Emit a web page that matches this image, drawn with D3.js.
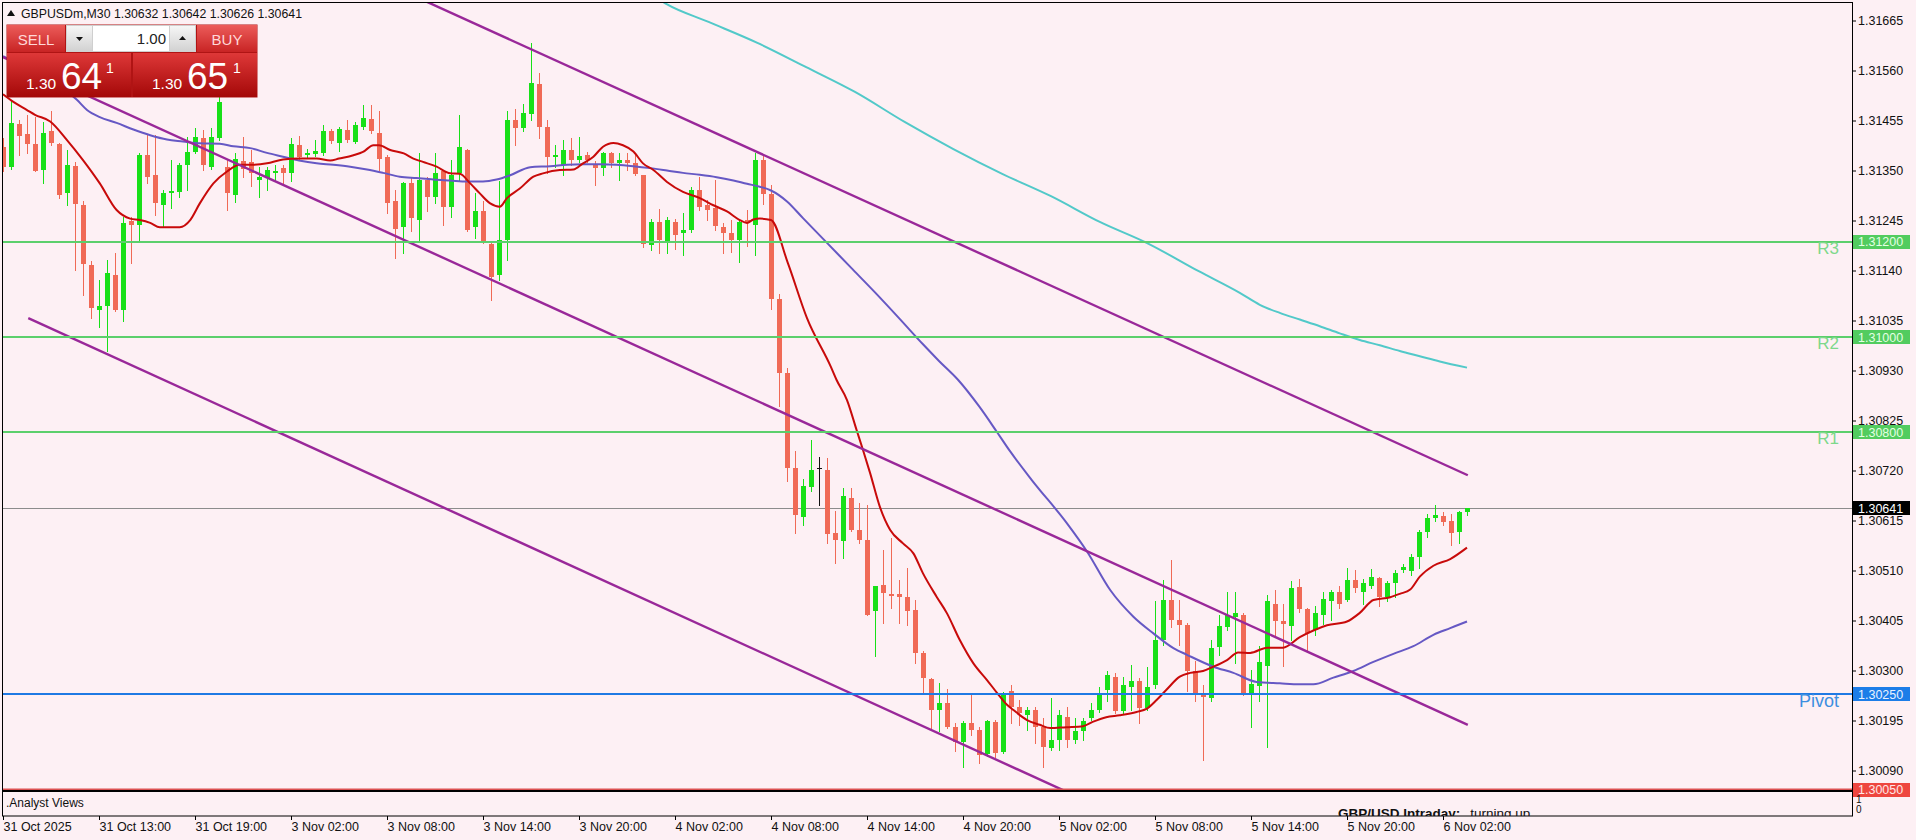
<!DOCTYPE html>
<html><head><meta charset="utf-8">
<script src="https://cdn.jsdelivr.net/npm/d3@7"></script>
<style>
html,body{margin:0;padding:0;background:#fdf0f4;overflow:hidden}
svg{display:block}
text{font-family:"Liberation Sans",Arial,sans-serif}
</style></head><body>
<svg id="c" width="1916" height="840"></svg>
<script>
// ---------- DATA ----------
const symbolTitle = "GBPUSDm,M30  1.30632 1.30642 1.30626 1.30641";
const open = [1.31400,1.31358,1.31448,1.31426,1.31405,1.31351,1.31434,1.31406,1.31303,1.31360,
1.31278,1.31152,1.31058,1.31066,1.31130,1.31057,1.31243,1.31236,1.31383,1.31341,
1.31278,1.31303,1.31305,1.31361,1.31389,1.31418,1.31358,1.31418,1.31358,1.31299,
1.31371,1.31368,1.31331,1.31334,1.31345,1.31355,1.31344,1.31404,1.31382,1.31385,
1.31386,1.31432,1.31407,1.31435,1.31410,1.31442,1.31458,1.31428,1.31379,1.31285,
1.31232,1.31324,1.31247,1.31330,1.31295,1.31348,1.31274,1.31344,1.31394,1.31232,
1.31264,1.31196,1.31131,1.31204,1.31456,1.31440,1.31468,1.31532,1.31442,1.31379,
1.31362,1.31393,1.31373,1.31382,1.31362,1.31355,1.31386,1.31366,1.31373,1.31366,
1.31341,1.31193,1.31242,1.31198,1.31242,1.31219,1.31226,1.31310,1.31278,1.31271,
1.31231,1.31219,1.31205,1.31246,1.31236,1.31372,1.31300,1.31080,1.30925,1.30725,
1.30623,1.30686,1.30725,1.30721,1.30588,1.30571,1.30662,1.30595,1.30573,1.30424,
1.30480,1.30460,1.30461,1.30454,1.30427,1.30337,1.30282,1.30217,1.30231,1.30181,
1.30150,1.30190,1.30175,1.30125,1.30192,1.30129,1.30256,1.30223,1.30207,1.30218,
1.30182,1.30137,1.30155,1.30203,1.30154,1.30174,1.30200,1.30218,1.30258,1.30287,
1.30214,1.30265,1.30277,1.30221,1.30270,1.30365,1.30447,1.30406,1.30396,1.30298,
1.30252,1.30242,1.30350,1.30392,1.30413,1.30416,1.30252,1.30267,1.30309,1.30440,
1.30405,1.30393,1.30476,1.30429,1.30384,1.30417,1.30445,1.30464,1.30448,1.30489,
1.30464,1.30478,1.30495,1.30455,1.30483,1.30511,1.30508,1.30539,1.30591,1.30621,
1.30624,1.30614,1.30591,1.30632];
const high = [1.31418,1.31498,1.31456,1.31467,1.31463,1.31452,1.31474,1.31407,1.31393,1.31368,
1.31285,1.31159,1.31120,1.31162,1.31176,1.31253,1.31253,1.31386,1.31425,1.31425,
1.31309,1.31372,1.31365,1.31421,1.31439,1.31435,1.31439,1.31505,1.31372,1.31386,
1.31421,1.31393,1.31358,1.31358,1.31361,1.31361,1.31418,1.31422,1.31396,1.31414,
1.31446,1.31438,1.31442,1.31456,1.31452,1.31488,1.31488,1.31474,1.31382,1.31309,
1.31326,1.31337,1.31386,1.31337,1.31386,1.31351,1.31372,1.31467,1.31396,1.31302,
1.31285,1.31201,1.31327,1.31474,1.31480,1.31490,1.31618,1.31555,1.31455,1.31404,
1.31414,1.31418,1.31421,1.31389,1.31369,1.31389,1.31389,1.31386,1.31386,1.31382,
1.31341,1.31249,1.31270,1.31253,1.31249,1.31260,1.31316,1.31337,1.31288,1.31330,
1.31239,1.31246,1.31249,1.31267,1.31386,1.31385,1.31320,1.31090,1.30935,1.30760,
1.30703,1.30784,1.30749,1.30746,1.30634,1.30683,1.30683,1.30652,1.30648,1.30477,
1.30553,1.30578,1.30490,1.30515,1.30448,1.30340,1.30284,1.30273,1.30262,1.30189,
1.30193,1.30249,1.30182,1.30196,1.30196,1.30255,1.30270,1.30237,1.30224,1.30224,
1.30200,1.30242,1.30217,1.30224,1.30200,1.30200,1.30231,1.30266,1.30298,1.30295,
1.30287,1.30312,1.30284,1.30308,1.30445,1.30491,1.30532,1.30448,1.30399,1.30319,
1.30270,1.30364,1.30416,1.30465,1.30465,1.30420,1.30301,1.30351,1.30459,1.30469,
1.30440,1.30487,1.30492,1.30431,1.30436,1.30464,1.30469,1.30478,1.30515,1.30511,
1.30492,1.30514,1.30497,1.30487,1.30511,1.30523,1.30544,1.30595,1.30628,1.30647,
1.30633,1.30628,1.30636,1.30642];
const low = [1.31348,1.31354,1.31383,1.31386,1.31348,1.31323,1.31404,1.31292,1.31278,1.31141,
1.31089,1.31040,1.31022,1.30970,1.31054,1.31033,1.31155,1.31204,1.31323,1.31257,
1.31232,1.31271,1.31295,1.31309,1.31386,1.31351,1.31354,1.31414,1.31267,1.31284,
1.31337,1.31318,1.31295,1.31309,1.31330,1.31323,1.31327,1.31375,1.31379,1.31380,
1.31382,1.31407,1.31390,1.31410,1.31407,1.31438,1.31428,1.31351,1.31260,1.31166,
1.31176,1.31222,1.31204,1.31264,1.31281,1.31236,1.31253,1.31327,1.31222,1.31208,
1.31197,1.31078,1.31120,1.31162,1.31404,1.31432,1.31455,1.31418,1.31344,1.31358,
1.31341,1.31362,1.31368,1.31368,1.31320,1.31341,1.31358,1.31330,1.31351,1.31341,
1.31190,1.31183,1.31176,1.31176,1.31186,1.31172,1.31221,1.31267,1.31246,1.31225,
1.31176,1.31179,1.31158,1.31191,1.31172,1.31280,1.31060,1.30855,1.30697,1.30588,
1.30606,1.30676,1.30648,1.30567,1.30525,1.30536,1.30592,1.30567,1.30417,1.30330,
1.30399,1.30431,1.30399,1.30396,1.30316,1.30252,1.30179,1.30172,1.30179,1.30130,
1.30097,1.30164,1.30105,1.30120,1.30119,1.30126,1.30189,1.30186,1.30175,1.30147,
1.30098,1.30133,1.30133,1.30140,1.30147,1.30154,1.30196,1.30213,1.30235,1.30210,
1.30210,1.30217,1.30189,1.30217,1.30263,1.30354,1.30392,1.30354,1.30256,1.30235,
1.30112,1.30235,1.30333,1.30385,1.30315,1.30249,1.30182,1.30235,1.30140,1.30370,
1.30309,1.30365,1.30422,1.30342,1.30375,1.30398,1.30407,1.30431,1.30445,1.30464,
1.30440,1.30473,1.30436,1.30445,1.30455,1.30506,1.30501,1.30515,1.30581,1.30614,
1.30605,1.30564,1.30567,1.30626];
const close = [1.31358,1.31449,1.31423,1.31405,1.31349,1.31428,1.31407,1.31299,1.31361,1.31279,
1.31153,1.31061,1.31065,1.31134,1.31057,1.31239,1.31236,1.31383,1.31337,1.31281,
1.31303,1.31308,1.31361,1.31389,1.31420,1.31361,1.31420,1.31494,1.31302,1.31375,
1.31354,1.31345,1.31336,1.31351,1.31350,1.31345,1.31406,1.31379,1.31386,1.31390,
1.31432,1.31411,1.31438,1.31414,1.31445,1.31460,1.31432,1.31375,1.31282,1.31227,
1.31323,1.31250,1.31329,1.31295,1.31344,1.31273,1.31341,1.31399,1.31226,1.31266,
1.31201,1.31127,1.31204,1.31456,1.31440,1.31470,1.31534,1.31442,1.31379,1.31383,
1.31393,1.31372,1.31380,1.31372,1.31355,1.31386,1.31365,1.31372,1.31366,1.31343,
1.31196,1.31242,1.31204,1.31247,1.31214,1.31226,1.31309,1.31274,1.31268,1.31233,
1.31218,1.31204,1.31242,1.31239,1.31372,1.31300,1.31080,1.30925,1.30725,1.30627,
1.30687,1.30722,1.30725,1.30587,1.30573,1.30666,1.30595,1.30574,1.30417,1.30477,
1.30462,1.30457,1.30455,1.30426,1.30337,1.30285,1.30216,1.30231,1.30182,1.30150,
1.30189,1.30175,1.30122,1.30195,1.30126,1.30248,1.30224,1.30210,1.30218,1.30182,
1.30140,1.30155,1.30207,1.30154,1.30174,1.30195,1.30217,1.30252,1.30291,1.30214,
1.30270,1.30279,1.30221,1.30265,1.30365,1.30448,1.30406,1.30396,1.30298,1.30253,
1.30244,1.30347,1.30393,1.30416,1.30420,1.30252,1.30272,1.30318,1.30445,1.30403,
1.30397,1.30473,1.30429,1.30379,1.30421,1.30450,1.30464,1.30440,1.30489,1.30473,
1.30483,1.30497,1.30455,1.30483,1.30504,1.30517,1.30539,1.30591,1.30621,1.30626,
1.30611,1.30589,1.30633,1.30641];

// moving averages: [bar index, price]
const maFast = [[0,1.31510],[1.3,1.31494],[3,1.31477],[4,1.31467],[5.9,1.31453],[8,1.31414],[10,1.31372],[12.1,1.31323],[14.2,1.31267],[15.9,1.31249],[17.1,1.31246],[18.4,1.31240],[19.6,1.31231],[22.1,1.31231],[23.4,1.31246],[24.6,1.31281],[26.3,1.31323],[28,1.31348],[29.6,1.31362],[31,1.31362],[33,1.31365],[35,1.31373],[37,1.31375],[39.2,1.31375],[40.9,1.31371],[42,1.31375],[43.8,1.31382],[45,1.31389],[46.3,1.31403],[47,1.31403],[48.4,1.31393],[50.1,1.31386],[51.3,1.31375],[52.5,1.31368],[54.2,1.31358],[55.9,1.31344],[57.1,1.31343],[58.4,1.31323],[59.6,1.31302],[60.9,1.31281],[62.1,1.31274],[63,1.31292],[64.6,1.31312],[66.3,1.31337],[67.5,1.31344],[69.6,1.31351],[71.3,1.31352],[72.5,1.31365],[73.8,1.31379],[75,1.31400],[76.3,1.31408],[77.5,1.31403],[78.8,1.31390],[80,1.31365],[81.3,1.31351],[83,1.31326],[85,1.31305],[87.1,1.31292],[88.8,1.31277],[90.5,1.31264],[92.1,1.31246],[93,1.31240],[93.8,1.31247],[94.6,1.31249],[96,1.31246],[98.1,1.31156],[100.5,1.31040],[103.5,1.30937],[104.2,1.30910],[105.5,1.30868],[106.7,1.30805],[107.5,1.30763],[108.4,1.30714],[109.6,1.30644],[110.9,1.30595],[112.5,1.30567],[113.8,1.30546],[115,1.30504],[116.7,1.30455],[118,1.30420],[119.6,1.30364],[121.3,1.30315],[123,1.30280],[124.3,1.30252],[125.5,1.30228],[126.3,1.30217],[128,1.30196],[129.6,1.30186],[130.9,1.30179],[132.9,1.30181],[135,1.30183],[136.2,1.30192],[137.9,1.30202],[139.6,1.30206],[141.7,1.30213],[143,1.30220],[144.2,1.30238],[145.4,1.30259],[147.1,1.30287],[148.4,1.30295],[150,1.30299],[151.3,1.30308],[153,1.30322],[154.4,1.30338],[155.9,1.30337],[158,1.30348],[160,1.30348],[162.1,1.30370],[163.8,1.30384],[165.5,1.30395],[168,1.30403],[169.6,1.30421],[171.3,1.30448],[173.4,1.30454],[174.6,1.30461],[175.9,1.30470],[177.1,1.30497],[178.8,1.30520],[180.9,1.30534],[183,1.30558]];
const maMid = [[0,1.31590],[5,1.31545],[9.2,1.31499],[10.5,1.31477],[12.1,1.31462],[14.2,1.31450],[16.3,1.31436],[18.4,1.31424],[20.5,1.31415],[22.5,1.31411],[24.6,1.31407],[27.1,1.31406],[28.8,1.31401],[30.9,1.31397],[33,1.31387],[35,1.31379],[37,1.31371],[39.2,1.31365],[41.3,1.31362],[43.4,1.31358],[45.5,1.31352],[47.5,1.31345],[49.6,1.31337],[51.7,1.31334],[53.8,1.31331],[55.9,1.31329],[58,1.31327],[60,1.31327],[61.7,1.31331],[63.4,1.31340],[65.9,1.31357],[68.4,1.31359],[70.5,1.31362],[72.5,1.31363],[74.6,1.31363],[76.7,1.31362],[78.8,1.31359],[80.9,1.31355],[83,1.31350],[85,1.31345],[87.1,1.31341],[89.2,1.31336],[91.3,1.31329],[93,1.31322],[94.6,1.31316],[96,1.31308],[98,1.31285],[100,1.31250],[103,1.31198],[106,1.31146],[109,1.31094],[112,1.31040],[115,1.30985],[117,1.30950],[119.4,1.30910],[122,1.30855],[124.2,1.30802],[125.9,1.30760],[128.6,1.30700],[133,1.30609],[135.5,1.30550],[138.4,1.30469],[141.3,1.30413],[143.8,1.30378],[146.3,1.30347],[148,1.30333],[151.3,1.30308],[153.8,1.30295],[156.7,1.30276],[159.6,1.30273],[162.1,1.30271],[163.8,1.30271],[166.3,1.30285],[168.8,1.30299],[171.3,1.30318],[173.8,1.30335],[176.3,1.30351],[178.8,1.30375],[180.9,1.30389],[183,1.30403]];
const maSlow = [[78,1.31760],[82.9,1.31700],[88.2,1.31662],[94.3,1.31618],[100.4,1.31567],[106.5,1.31515],[112.7,1.31452],[118.8,1.31395],[124.9,1.31343],[131,1.31296],[137.1,1.31242],[143.2,1.31196],[149.4,1.31139],[154.6,1.31093],[157.1,1.31068],[159.6,1.31051],[162.1,1.31037],[164.6,1.31023],[167.1,1.31008],[169.6,1.30994],[172.1,1.30983],[174.6,1.30971],[177.1,1.30960],[179.6,1.30949],[183,1.30936]];

// descending channel lines: [[bar, price],[bar, price]]
const channelTop = [[50,1.31727],[183.1,1.30710]];
const channelMid = [[0,1.31588],[183.1,1.30186]];
const channelLow = [[3.16,1.31040],[133,1.30045]];

// horizontal levels
const levelValues = [1.31200,1.31000,1.30800,1.30250,1.30050];
const levelNames  = ["R3","R2","R1","Pivot",""];
const lastPrice = 1.30641;

// axis ticks
const yTicks = [1.31665,1.31560,1.31455,1.31350,1.31245,1.31140,1.31035,1.30930,1.30825,1.30720,1.30615,1.30510,1.30405,1.30300,1.30195,1.30090];
const xTickBars = [0,12,24,36,48,60,72,84,96,108,120,132,144,156,168,180];
const xTickLabels = ["31 Oct 2025","31 Oct 13:00","31 Oct 19:00","3 Nov 02:00","3 Nov 08:00","3 Nov 14:00","3 Nov 20:00","4 Nov 02:00","4 Nov 08:00","4 Nov 14:00","4 Nov 20:00","5 Nov 02:00","5 Nov 08:00","5 Nov 14:00","5 Nov 20:00","6 Nov 02:00"];

// ---------- DRAW ----------
const svg = d3.select("#c");
const L = 3, R = 1852, T = 3, B = 790;
const x = d3.scaleLinear().domain([0,183]).range([3,1467]);
const y = d3.scaleLinear().domain([1.30090,1.31665]).range([770.5,20.5]);
const fmt = d3.format(".5f");

const defs = svg.append("defs");
defs.append("clipPath").attr("id","plot").append("rect").attr("x",L).attr("y",T).attr("width",R-L).attr("height",B-T);
defs.append("clipPath").attr("id","sub").append("rect").attr("x",L).attr("y",792).attr("width",R-L).attr("height",24);
function grad(id,c1,c2){const g=defs.append("linearGradient").attr("id",id).attr("x1",0).attr("y1",0).attr("x2",0).attr("y2",1);
 g.append("stop").attr("offset","0%").attr("stop-color",c1); g.append("stop").attr("offset","100%").attr("stop-color",c2);}
grad("btn","#ec5c5a","#c82424");
grad("price","#de3838","#a40808");
grad("gry","#f6f6f6","#d2d2d2");

svg.append("rect").attr("width",1916).attr("height",840).attr("fill","#fdf0f4");

const plot = svg.append("g").attr("clip-path","url(#plot)");

// last price line
plot.append("line").attr("x1",L).attr("x2",R).attr("y1",Math.round(y(lastPrice))+0.5).attr("y2",Math.round(y(lastPrice))+0.5)
  .attr("stroke","#8c8c8c").attr("stroke-width",1);

// candles
const idx = d3.range(open.length);
const BULL="#18e018", BEAR="#f06a56";
const cg = plot.append("g");
idx.forEach(i=>{
  const cx = Math.round(x(i));
  const o=open[i], c=close[i];
  const col = o===c ? "#111" : (c>o?BULL:BEAR);
  cg.append("line").attr("x1",cx+0.5).attr("x2",cx+0.5)
    .attr("y1",Math.round(y(high[i]))).attr("y2",Math.round(y(low[i]))+1)
    .attr("stroke",col).attr("stroke-width",1);
  const t = Math.round(y(Math.max(o,c))), b = Math.round(y(Math.min(o,c)));
  if (o===c){
    cg.append("line").attr("x1",cx-2).attr("x2",cx+3).attr("y1",t+0.5).attr("y2",t+0.5).attr("stroke",col);
  } else {
    cg.append("rect").attr("x",cx-2).attr("y",t).attr("width",5).attr("height",Math.max(1,b-t)).attr("fill",col);
  }
});

// moving averages
const lineGen = d3.line().x(d=>x(d[0])).y(d=>y(d[1])).curve(d3.curveMonotoneX);
plot.append("path").attr("d",lineGen(maSlow)).attr("fill","none").attr("stroke","#52c9c9").attr("stroke-width",2);
plot.append("path").attr("d",lineGen(maMid)).attr("fill","none").attr("stroke","#6658c4").attr("stroke-width",2);
plot.append("path").attr("d",lineGen(maFast)).attr("fill","none").attr("stroke","#c80a0a").attr("stroke-width",2);

// channel
const straight = d3.line().x(d=>x(d[0])).y(d=>y(d[1]));
[channelTop,channelMid,channelLow].forEach(c=>{
  plot.append("path").attr("d",straight(c)).attr("fill","none").attr("stroke","#992899").attr("stroke-width",2.4);
});

// levels
const levelColors = ["#5ccf6c","#5ccf6c","#5ccf6c","#1f7ae4","#dc5050"];
const levelText = ["#7dd88b","#7dd88b","#7dd88b","#3d8fe0",""];
levelValues.forEach((v,i)=>{
  const yy = Math.round(y(v));
  svg.append("line").attr("x1",L).attr("x2",R).attr("y1",yy).attr("y2",yy)
    .attr("stroke",levelColors[i]).attr("stroke-width", i===4?3:2);
  if (levelNames[i]) {
    const big = levelNames[i]==="Pivot";
    svg.append("text").attr("x",1839).attr("y",yy+(big?13:12)).attr("text-anchor","end")
      .attr("font-size",big?18:17).attr("fill",levelText[i]).text(levelNames[i]);
  }
});

// frames
svg.append("rect").attr("x",L-0.5).attr("y",T-0.5).attr("width",R-L+1).attr("height",B-T+1).attr("fill","none").attr("stroke","#000");
svg.append("rect").attr("x",L-0.5).attr("y",791.5).attr("width",R-L+1).attr("height",24.5).attr("fill","none").attr("stroke","#000");
svg.append("line").attr("x1",R+0.5).attr("x2",R+0.5).attr("y1",T).attr("y2",816).attr("stroke","#000");

// right axis
const yAxis = svg.append("g").attr("transform",`translate(${R},0)`)
  .call(d3.axisRight(y).tickValues(yTicks).tickFormat(fmt).tickSize(4).tickPadding(2));
yAxis.select(".domain").remove();
yAxis.selectAll("line").attr("stroke","#000");
yAxis.selectAll("text").attr("font-size",12.5).attr("fill","#111").attr("font-family","Liberation Sans, Arial, sans-serif");

// price boxes on axis
const boxVals = [1.31200,1.31000,1.30800,lastPrice,1.30250,1.30050];
const boxCols = ["#52cc5f","#52cc5f","#52cc5f","#000","#1c7de8","#ee463f"];
const boxTxt = ["#e4ffe4","#e4ffe4","#e4ffe4","#fff","#e8f2ff","#ffe6e6"];
boxVals.forEach((v,i)=>{
  const yy = y(v);
  svg.append("rect").attr("x",R+1).attr("y",Math.round(yy-7)).attr("width",57).attr("height",14).attr("fill",boxCols[i]);
  svg.append("text").attr("x",R+6).attr("y",yy).attr("dy","0.36em").attr("font-size",12.5).attr("fill",boxTxt[i]).text(fmt(v));
});

// bottom axis
const xAxis = svg.append("g").attr("transform","translate(0,816)")
  .call(d3.axisBottom(x).tickValues(xTickBars).tickFormat((d,i)=>xTickLabels[i]).tickSize(4));
xAxis.select(".domain").remove();
xAxis.selectAll("line").attr("stroke","#000");
xAxis.selectAll("text").attr("text-anchor","start").attr("x",0).attr("y",6).attr("dy","0.71em")
  .attr("font-size",12.5).attr("fill","#111").attr("font-family","Liberation Sans, Arial, sans-serif");

// sub window
svg.append("text").attr("x",6).attr("y",807).attr("font-size",12).attr("fill","#111").text(".Analyst Views");
const sg = svg.append("g").attr("clip-path","url(#sub)");
const st = sg.append("text").attr("x",1338).attr("y",818).attr("font-size",13.5).attr("fill","#111");
st.append("tspan").attr("font-weight","bold").text("GBP/USD Intraday:");
st.append("tspan").attr("dx",10).text("turning up.");
svg.append("text").attr("x",1856).attr("y",803).attr("font-size",10).attr("fill","#111").text("1");
svg.append("text").attr("x",1856).attr("y",813).attr("font-size",10).attr("fill","#111").text("0");

// title
svg.append("path").attr("d","M7,16 L15,16 L11,10 Z").attr("fill","#111");
svg.append("text").attr("x",21).attr("y",17.5).attr("font-size",12.3).attr("fill","#111").text(symbolTitle);

// one-click trading panel
const p = svg.append("g");
p.append("rect").attr("x",6.5).attr("y",24.5).attr("width",251).attr("height",73).attr("fill","#b01414");
p.append("rect").attr("x",7).attr("y",25).attr("width",58).attr("height",27).attr("fill","url(#btn)");
p.append("rect").attr("x",197).attr("y",25).attr("width",60).attr("height",27).attr("fill","url(#btn)");
p.append("rect").attr("x",66).attr("y",25).attr("width",130).attr("height",27).attr("fill","#cfcfcf");
p.append("rect").attr("x",67).attr("y",26).attr("width",25).attr("height",25).attr("fill","url(#gry)");
p.append("rect").attr("x",170).attr("y",26).attr("width",25).attr("height",25).attr("fill","url(#gry)");
p.append("rect").attr("x",93).attr("y",26).attr("width",76).attr("height",25).attr("fill","#fff");
p.append("path").attr("d","M76,37 L83,37 L79.5,41 Z").attr("fill","#111");
p.append("path").attr("d","M179,40 L186,40 L182.5,36 Z").attr("fill","#111");
p.append("text").attr("x",166).attr("y",44).attr("text-anchor","end").attr("font-size",15).attr("fill","#222").text("1.00");
p.append("text").attr("x",36).attr("y",44.5).attr("text-anchor","middle").attr("font-size",15)
  .attr("font-family","Liberation Sans Narrow, Liberation Sans, sans-serif").attr("fill","#ffd8d8").text("SELL");
p.append("text").attr("x",227).attr("y",44.5).attr("text-anchor","middle").attr("font-size",15)
  .attr("font-family","Liberation Sans Narrow, Liberation Sans, sans-serif").attr("fill","#ffd8d8").text("BUY");
p.append("rect").attr("x",7).attr("y",53).attr("width",124).attr("height",44).attr("fill","url(#price)");
p.append("rect").attr("x",133).attr("y",53).attr("width",124).attr("height",44).attr("fill","url(#price)");
[[26,61,106,"64"],[152,187,233,"65"]].forEach(d=>{
  p.append("text").attr("x",d[0]).attr("y",88.5).attr("font-size",15.5).attr("fill","#fff").text("1.30");
  p.append("text").attr("x",d[1]).attr("y",88.5).attr("font-size",37).attr("fill","#fff").text(d[3]);
  p.append("text").attr("x",d[2]).attr("y",72.5).attr("font-size",14).attr("fill","#fff").text("1");
});
</script>
</body></html>
